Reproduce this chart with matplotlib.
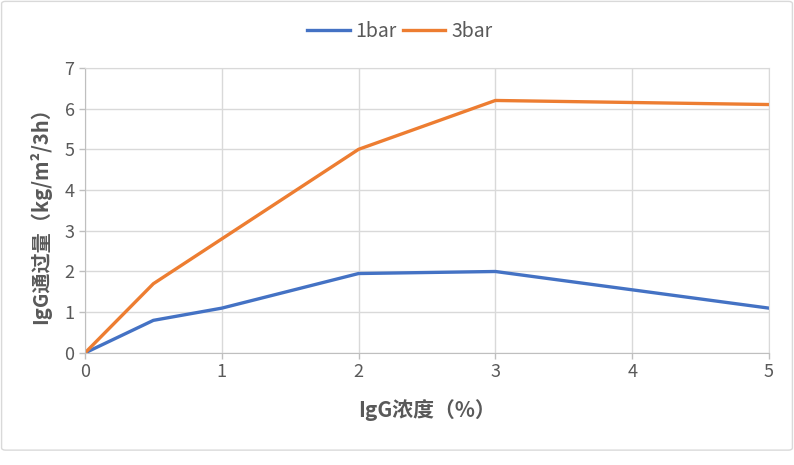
import matplotlib.pyplot as plt
from matplotlib.patches import FancyBboxPatch

plt.rcParams['font.family'] = ['Noto Sans CJK SC', 'DejaVu Sans']

# data
conc = [0, 0.5, 1, 2, 3, 5]
flux_1bar = [0, 0.8, 1.1, 1.95, 2.0, 1.1]
flux_3bar = [0, 1.7, 2.8, 5.0, 6.2, 6.1]
x_ticks = [0, 1, 2, 3, 4, 5]
y_ticks = [0, 1, 2, 3, 4, 5, 6, 7]

fig = plt.figure(figsize=(7.94, 4.65), dpi=100)
ax = fig.add_axes([0.107, 0.241, 0.8615, 0.613])

# outer frame
fig.patches.append(FancyBboxPatch((0.002, 0.032), 0.996, 0.965, boxstyle='round,pad=0,rounding_size=0.005',
                                  transform=fig.transFigure, fill=False, edgecolor='#D9D9D9', linewidth=1))

ax.plot(conc, flux_1bar, color='#4472C4', linewidth=2.4, label='1bar')
ax.plot(conc, flux_3bar, color='#ED7D31', linewidth=2.4, label='3bar')

ax.set_xlim(0, 5)
ax.set_ylim(0, 7)
ax.set_xticks(x_ticks)
ax.set_yticks(y_ticks)
ax.grid(True, color='#D9D9D9', linewidth=1)
ax.set_axisbelow(True)
for s in ax.spines.values():
    s.set_color('#D9D9D9')
ax.spines['left'].set_color('#BFBFBF')
ax.spines['bottom'].set_color('#BFBFBF')
ax.tick_params(colors='#BFBFBF', labelcolor='#595959', labelsize=13, length=4, width=1)

ax.set_xlabel('IgG浓度（%）', fontsize=15, fontweight='bold', color='#595959', labelpad=13)
ax.set_ylabel('IgG通过量（kg/m²/3h）', fontsize=14.5, fontweight='bold', color='#595959', labelpad=10)

ax.legend(loc='lower center', bbox_to_anchor=(0.46, 1.03), ncol=2, frameon=False, fontsize=14,
          labelcolor='#595959', handlelength=2.2, columnspacing=0.3, handletextpad=0.3)

fig.savefig('out.png', dpi=100)
